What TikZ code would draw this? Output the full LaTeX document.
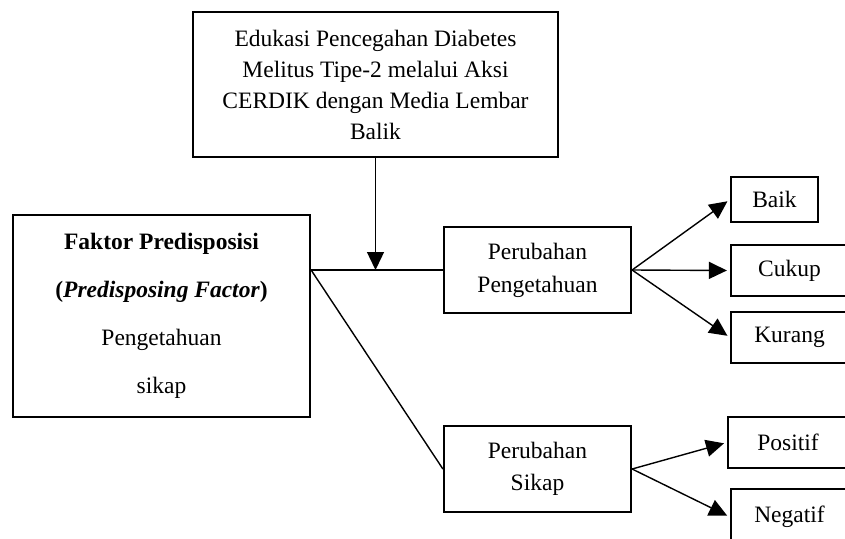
\documentclass[tikz,border=0pt]{standalone}
\usepackage{fontspec}
\setmainfont{Liberation Serif}
\usetikzlibrary{arrows.meta}
\begin{document}
\begin{tikzpicture}[x=1pt,y=-1pt,
  box/.style={draw, line width=2.2pt, inner sep=0pt, align=center, font=\fontsize{23.5}{31}\selectfont},
  conn/.style={line width=1.4pt},
  arr/.style={conn, -{Triangle[length=18pt,width=17pt]}, shorten >=3pt}]
\clip (0,0) rectangle (845,538);
\node[box, minimum width=365pt, minimum height=145pt] (edu) at (375.5,84.5)
  {Edukasi Pencegahan Diabetes\\Melitus Tipe-2 melalui Aksi\\CERDIK dengan Media Lembar\\Balik};
\node[box, minimum width=297pt, minimum height=202pt, font=\fontsize{23.5}{48}\selectfont] (fak) at (161.5,316)
  {\textbf{Faktor Predisposisi}\\\textbf{(\textit{Predisposing Factor})}\\Pengetahuan\\sikap};
\node[box, minimum width=187pt, minimum height=86pt, font=\fontsize{23.5}{33}\selectfont] (pp) at (537.5,270)
  {Perubahan\\Pengetahuan};
\node[box, minimum width=187pt, minimum height=86pt, font=\fontsize{23.5}{32}\selectfont] (ps) at (537.5,469)
  {Perubahan\\Sikap};
\node[box, minimum width=87pt, minimum height=45pt] (baik) at (774.5,199.5) {Baik};
\node[box, minimum width=117pt, minimum height=51pt] (cukup) at (789.5,270.5) {Cukup};
\node[box, minimum width=117pt, minimum height=51pt] (kurang) at (789.5,337.5) {Kurang};
\node[box, minimum width=120pt, minimum height=51pt] (positif) at (788,442.5) {Positif};
\node[box, minimum width=117pt, minimum height=56pt] (negatif) at (789.5,517) {Negatif};
\coordinate (j) at (edu.south |- pp.west);
\coordinate (s) at (fak.north east |- pp.west);
\draw[conn] (s) -- (pp.west);
\draw[conn] (s) -- (ps.west);
\draw[arr, shorten >=0pt] (edu.south) -- (j);
\draw[arr] (pp.east) -- (baik.west);
\draw[arr] (pp.east) -- (cukup.west);
\draw[arr] (pp.east) -- (kurang.west);
\draw[arr] (ps.east) -- (positif.west);
\draw[arr] (ps.east) -- (negatif.west);
\end{tikzpicture}
\end{document}
